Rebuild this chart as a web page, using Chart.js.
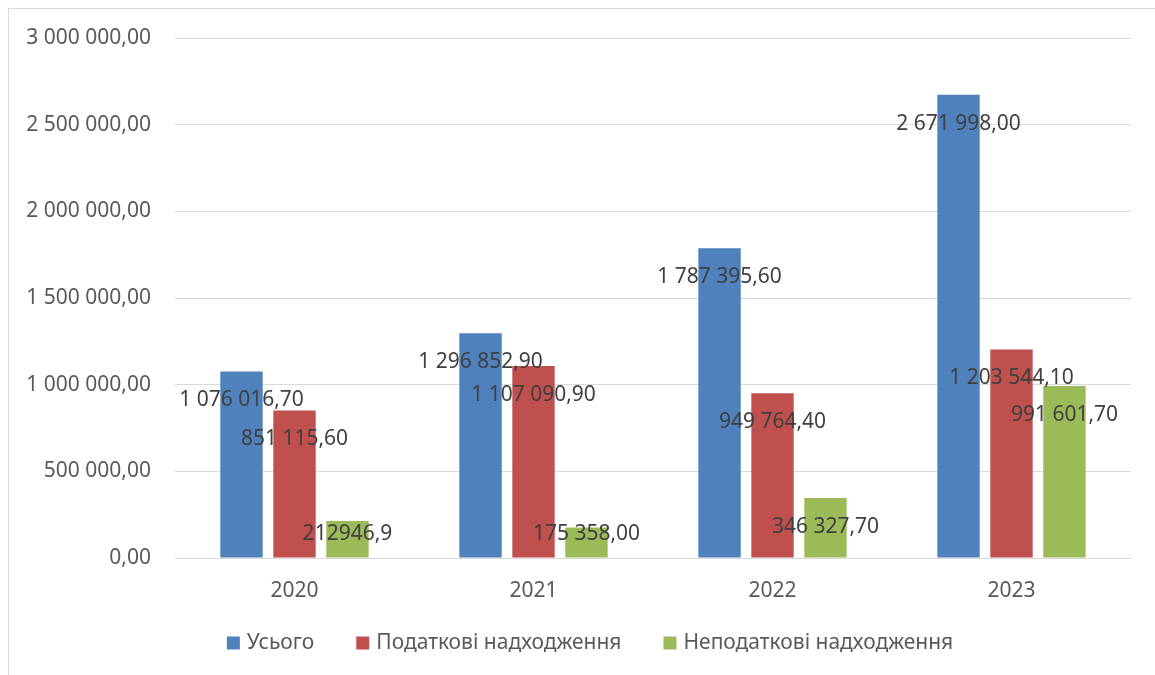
<!DOCTYPE html>
<html>
<head>
<meta charset="utf-8">
<script src="https://cdn.jsdelivr.net/npm/chart.js@4/dist/chart.umd.min.js"></script>
<style>
  html, body { margin:0; padding:0; background:#fff; overflow:hidden; }
  #wrap { position:relative; width:1155px; height:675px; }
  #frame { position:absolute; left:8px; top:8px; width:1200px; height:720px; border:1px solid #d9d9d9; pointer-events:none; }
  canvas { position:absolute; left:0; top:0; }
</style>
</head>
<body>
<div id="wrap">
  <canvas id="chart" width="1155" height="675"></canvas>
  <div id="frame"></div>
</div>
<script>
const years = ['2020', '2021', '2022', '2023'];
const seriesNames = ['Усього', 'Податкові надходження', 'Неподаткові надходження'];
const totalVals = [1076016.7, 1296852.9, 1787395.6, 2671998.0];
const taxVals = [851115.6, 1107090.9, 949764.4, 1203544.1];
const nonTaxVals = [212946.9, 175358.0, 346327.7, 991601.7];
const colors = ['#4f81bd', '#c0504d', '#9bbb59'];
// this one label is shown as typed in the sheet: no grouping, one decimal
const plainLabels = [[2, 0]];

function fmt(v, dec){
  const s = v.toFixed(dec);
  const [ip, fp] = s.split('.');
  const grouped = ip.replace(/\B(?=(\d{3})+(?!\d))/g, ' ');
  return fp ? grouped + ',' + fp : grouped;
}

function labelText(di, i, v){
  if(plainLabels.some(p => p[0]===di && p[1]===i)) return String(v).replace('.', ',');
  return fmt(v, 2);
}

const FONT = '"Noto Sans", "Open Sans", sans-serif';

// value labels just inside the top of each bar, kept above the axis for short bars
const barLabels = {
  id: 'barLabels',
  afterDatasetsDraw(chart){
    const ctx = chart.ctx;
    ctx.save();
    ctx.font = '21px ' + FONT;
    ctx.fillStyle = '#404040';
    ctx.textAlign = 'center';
    ctx.textBaseline = 'middle';
    chart.data.datasets.forEach((ds, di)=>{
      chart.getDatasetMeta(di).data.forEach((bar, i)=>{
        const y = Math.min(bar.y + 29, bar.base - 23);
        ctx.fillText(labelText(di, i, ds.data[i]), bar.x, y);
      });
    });
    ctx.restore();
  }
};

// legend row under the axis, squares + names
const bottomLegend = {
  id: 'bottomLegend',
  afterDraw(chart, args, opts){
    const ctx = chart.ctx;
    ctx.save();
    ctx.font = opts.fontSize + 'px ' + FONT;
    ctx.textBaseline = 'middle';
    const items = chart.data.datasets.map(ds => ({ text: ds.label, color: ds.backgroundColor }));
    const widths = items.map(it => opts.box + opts.gap + ctx.measureText(it.text).width);
    const total = widths.reduce((a,b)=>a+b, 0) + opts.spacing * (items.length - 1);
    let x = opts.centerX - total / 2;
    items.forEach((it, k)=>{
      ctx.fillStyle = it.color;
      ctx.fillRect(x, opts.y - opts.box / 2, opts.box, opts.box);
      ctx.fillStyle = '#595959';
      ctx.fillText(it.text, x + opts.box + opts.gap, opts.y);
      x += widths[k] + opts.spacing;
    });
    ctx.restore();
  }
};

const seriesData = [totalVals, taxVals, nonTaxVals];

new Chart(document.getElementById('chart'), {
  type: 'bar',
  data: {
    labels: years,
    datasets: seriesNames.map((name, k)=>({
      label: name,
      data: seriesData[k],
      backgroundColor: colors[k],
      borderWidth: 0,
      categoryPercentage: 0.665,
      barPercentage: 0.8
    }))
  },
  options: {
    responsive: false,
    animation: false,
    layout: { padding: { left: 0, right: 24, top: 38, bottom: 0 } },
    plugins: {
      tooltip: { enabled: false },
      legend: { display: false },
      bottomLegend: { centerX: 590, y: 643, box: 13, gap: 7, spacing: 42, fontSize: 21 }
    },
    scales: {
      x: {
        grid: { display: false, drawTicks: false },
        border: { color: '#d9d9d9' },
        ticks: { color: '#595959', padding: 20, font: { family: FONT, size: 21 } },
        afterFit(scale){ scale.height = 117; }
      },
      y: {
        min: 0,
        max: 3000000,
        grid: { color: '#d9d9d9', drawTicks: false, tickLength: 0 },
        border: { display: false },
        ticks: {
          stepSize: 500000,
          padding: 24,
          color: '#595959',
          font: { family: FONT, size: 21 },
          callback: v => fmt(v, 2)
        },
        afterFit(scale){ scale.width = 175; }
      }
    }
  },
  plugins: [barLabels, bottomLegend]
});
</script>
</body>
</html>
